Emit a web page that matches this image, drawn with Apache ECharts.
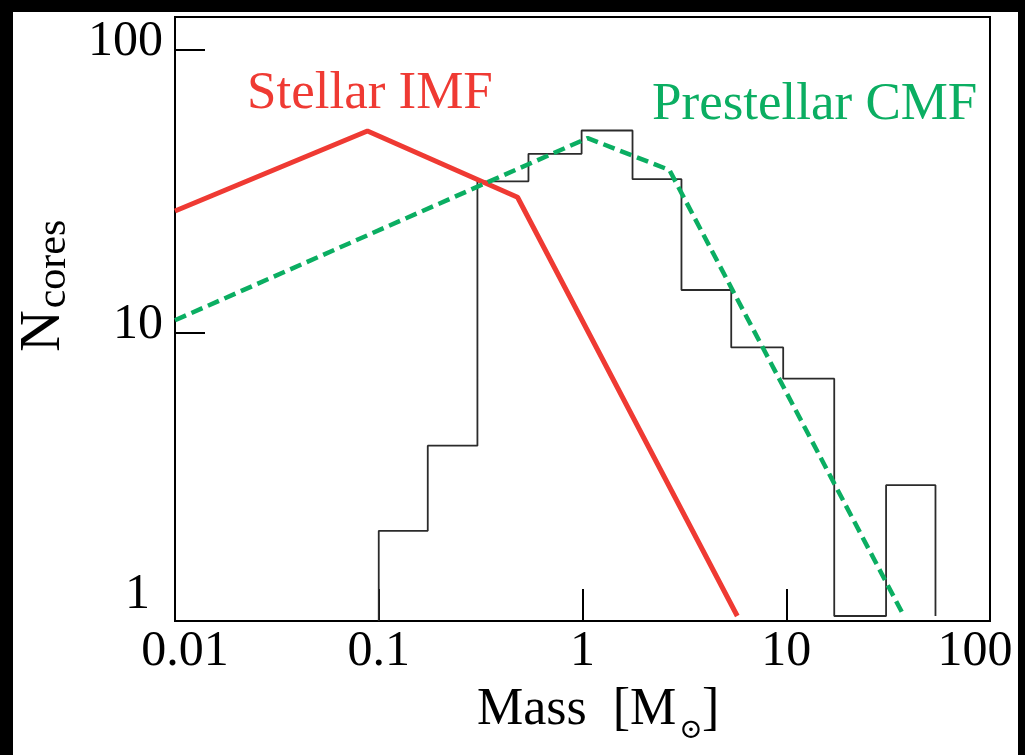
<!DOCTYPE html>
<html>
<head>
<meta charset="utf-8">
<script src="https://cdn.jsdelivr.net/npm/echarts@6/dist/echarts.min.js"></script>
<style>
  html, body { margin: 0; padding: 0; background: #000; width: 1025px; height: 755px; overflow: hidden; }
  #chart { position: absolute; left: 13px; top: 12px; width: 1005px; height: 743px; background: #fff; }
</style>
</head>
<body>
<div id="chart"></div>
<script>
// ---- Data ----
// Stellar IMF (red solid broken power law)
const imfMass = [0.01, 0.088, 0.48, 5.75];
const imfN    = [27, 51.8, 30.2, 1.0];
// Prestellar CMF (green dashed)
const cmfMass = [0.01, 1.06, 2.67, 37.8];
const cmfN    = [11.1, 48.9, 37.7, 1.0];
// Observed core histogram: bin edges and counts
const histEdges  = [0.1, 0.174, 0.305, 0.543, 0.99, 1.76, 3.06, 5.37, 9.66, 17.2, 30.9, 54];
const histCounts = [2, 4, 34.4, 43, 52, 35, 14.2, 8.9, 6.9, 1.0, 2.9];
// Tick labels
const xTickLabels = ["0.01", "0.1", "1", "10", "100"];
const yTickLabels = ["1", "10", "100"];

const FONT = 'Liberation Serif';
const RED = '#EF3A33';
const GREEN = '#0BAE62';

const zip = (a, b) => a.map((v, i) => [v, b[i]]);

// step outline of histogram
const histBase = 0.96;
const histLine = [[histEdges[0], histBase]];
for (let i = 0; i < histCounts.length; i++) {
  histLine.push([histEdges[i], histCounts[i]]);
  histLine.push([histEdges[i + 1], histCounts[i]]);
}
histLine.push([histEdges[histEdges.length - 1], 1.0]);

const chart = echarts.init(document.getElementById('chart'), null, { renderer: 'canvas' });

const option = {
  backgroundColor: '#fff',
  animation: false,
  grid: { left: 162, top: 5, right: 28, bottom: 134, show: true, borderColor: '#000', borderWidth: 2, backgroundColor: 'transparent' },
  xAxis: {
    type: 'log', logBase: 10, min: 0.01, max: 100,
    axisLine: { show: true, lineStyle: { color: '#000', width: 2 } },
    axisTick: { show: true, inside: true, length: 32, lineStyle: { color: '#000', width: 2 } },
    splitLine: { show: false },
    axisLabel: {
      color: '#000', fontFamily: FONT, fontSize: 50, margin: 6,
      formatter: function (v) {
        const idx = Math.round(Math.log10(v)) + 2;
        const t = xTickLabels[idx];
        if (t === undefined) return '';
        if (idx === 0) return '{l|' + t + '}';
        if (idx === xTickLabels.length - 1) return '{r|' + t + '}';
        return '{c|' + t + '}';
      },
      rich: {
        l: { fontFamily: FONT, fontSize: 50, color: '#000', padding: [0, 0, 0, 20] },
        r: { fontFamily: FONT, fontSize: 50, color: '#000', padding: [0, 30, 0, 0] },
        c: { fontFamily: FONT, fontSize: 50, color: '#000' }
      }
    }
  },
  yAxis: {
    type: 'log', logBase: 10, min: 0.96, max: 131,
    axisLine: { show: true, lineStyle: { color: '#000', width: 2 } },
    axisTick: { show: true, inside: true, length: 30, customValues: [10, 100], lineStyle: { color: '#000', width: 2 } },
    splitLine: { show: false },
    minorTick: { show: false },
    axisLabel: {
      color: '#000', fontFamily: FONT, fontSize: 50, margin: 12,
      customValues: [1, 10, 100],
      formatter: function (v) {
        const idx = Math.round(Math.log10(v));
        if (Math.abs(Math.log10(v) - idx) > 1e-6) return '';
        const t = yTickLabels[idx];
        if (t === undefined) return '';
        if (idx === 0) return '{one|' + t + '}';
        return '{n|' + t + '}';
      },
      rich: {
        n: { fontFamily: FONT, fontSize: 50, color: '#000', padding: [0, 0, 16, 0] },
        one: { fontFamily: FONT, fontSize: 50, color: '#000', padding: [0, 13, 42, 0] }
      }
    }
  },
  series: [
    {
      name: 'Histogram', type: 'line', data: histLine, symbol: 'none', z: 2,
      lineStyle: { color: '#2b2b2b', width: 1.8 }
    },
    {
      name: 'Stellar IMF', type: 'line', data: zip(imfMass, imfN), symbol: 'none', z: 3,
      lineStyle: { color: RED, width: 5 }
    },
    {
      name: 'Prestellar CMF', type: 'line', data: zip(cmfMass, cmfN), symbol: 'none', z: 4,
      lineStyle: { color: GREEN, width: 4.5, type: [12, 6] }
    }
  ],
  graphic: [
    { type: 'text', x: 234, y: 82,
      style: { text: 'Stellar IMF', fill: RED, fontFamily: FONT, fontSize: 53, textAlign: 'left', textVerticalAlign: 'middle' } },
    { type: 'text', x: 639, y: 93,
      style: { text: 'Prestellar CMF', fill: GREEN, fontFamily: FONT, fontSize: 53, textAlign: 'left', textVerticalAlign: 'middle' } },
    { type: 'text', x: 31, y: 319, rotation: Math.PI / 2,
      style: { text: 'N', fill: '#000', fontFamily: FONT, fontSize: 58, textAlign: 'center', textVerticalAlign: 'middle' } },
    { type: 'text', x: 41, y: 252, rotation: Math.PI / 2,
      style: { text: 'cores', fill: '#000', fontFamily: FONT, fontSize: 42, textAlign: 'center', textVerticalAlign: 'middle' } },
    { type: 'text', x: 464, y: 698,
      style: { text: 'Mass  [M', fill: '#000', fontFamily: FONT, fontSize: 52, textAlign: 'left', textVerticalAlign: 'middle' } },
    { type: 'text', x: 678, y: 719,
      style: { text: '\u2299', fill: '#000', fontFamily: 'DejaVu Serif', fontSize: 28, textAlign: 'center', textVerticalAlign: 'middle' } },
    { type: 'text', x: 689, y: 698,
      style: { text: ']', fill: '#000', fontFamily: FONT, fontSize: 52, textAlign: 'left', textVerticalAlign: 'middle' } }
  ]
};
chart.setOption(option);
</script>
</body>
</html>
